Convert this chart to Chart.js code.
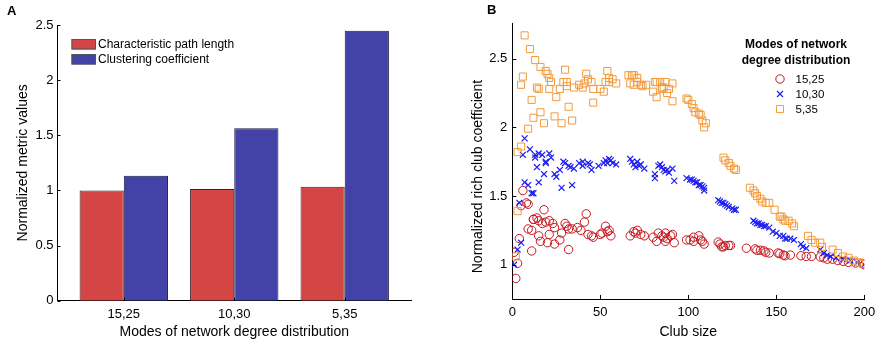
<!DOCTYPE html>
<html>
<head>
<meta charset="utf-8">
<script src="https://cdn.jsdelivr.net/npm/chart.js@4.4.0/dist/chart.umd.min.js"></script>
<style>
html,body{margin:0;padding:0;background:#fff;}
#wrap{position:relative;width:877px;height:343px;overflow:hidden;background:#fff;}
canvas{position:absolute;top:0;}
#c1{left:0;}
#c2{left:440px;}
.panel{position:absolute;font-family:'Liberation Sans',Arial,Helvetica,sans-serif;font-weight:bold;font-size:13px;line-height:13px;color:#000;}
</style>
</head>
<body>
<div id="wrap">
  <canvas id="c1" width="440" height="343"></canvas>
  <canvas id="c2" width="437" height="343"></canvas>
  <div class="panel" style="left:7px;top:4px;">A</div>
  <div class="panel" style="left:487px;top:3px;">B</div>
</div>
<script>
// ---------- Panel A data ----------
const barCategories = ['15,25', '10,30', '5,35'];
const pathLength = [1.00, 1.013, 1.034];
const clusteringCoef = [1.133, 1.563, 2.448];
const barTickValues = [0, 0.5, 1, 1.5, 2, 2.5];

// ---------- Panel B data ----------
const seriesNames = ['15,25', '10,30', '5,35'];
const club1525 = [1,2,3,4,5,6,8,9,9,11,11,12,12,14,15,15,16,17,18,19,20,21,21,23,24,24,27,28,30,31,32,32,34,37,39,41,42,43,45,46,50,51,53,54,55,56,67,69,70,71,73,75,80,82,83,85,86,87,87,88,90,91,92,99,101,103,103,106,107,108,109,117,118,119,120,121,123,124,133,138,139,141,143,144,146,151,152,154,155,158,164,167,170,175,177,179,182,185,188,191,195,199,200];
const rich1525 = [1.09,0.90,1.01,1.19,1.43,1.54,1.45,1.26,1.44,1.25,1.10,1.33,1.33,1.34,1.32,1.21,1.17,1.30,1.40,1.31,1.16,1.22,1.32,1.30,1.27,1.15,1.18,1.23,1.30,1.28,1.26,1.11,1.26,1.27,1.25,1.31,1.37,1.22,1.21,1.20,1.22,1.23,1.28,1.24,1.25,1.21,1.21,1.24,1.23,1.25,1.22,1.21,1.20,1.17,1.23,1.21,1.20,1.17,1.23,1.19,1.21,1.22,1.16,1.18,1.18,1.17,1.20,1.21,1.18,1.17,1.15,1.165,1.15,1.13,1.13,1.14,1.14,1.14,1.12,1.115,1.105,1.105,1.10,1.09,1.085,1.085,1.08,1.07,1.065,1.07,1.065,1.06,1.06,1.056,1.05,1.04,1.04,1.03,1.024,1.017,1.012,1.007,1.0];

const club1030 = [1,3,4,5,6,7,7,9,10,11,12,13,13,14,15,15,17,18,19,19,21,22,24,25,27,28,29,30,32,33,34,35,38,40,40,43,44,45,49,52,53,54,55,56,57,59,67,68,69,70,71,72,73,75,81,81,83,84,85,86,87,88,89,91,92,99,101,102,103,104,105,106,107,108,109,109,117,118,119,120,121,122,123,125,126,127,137,138,139,140,141,142,143,144,146,148,150,152,154,155,156,158,160,164,165,167,175,177,179,181,184,188,192,196,200];
const rich1030 = [1.00,1.11,1.45,1.16,1.80,1.60,1.92,1.58,1.84,1.52,1.52,1.80,1.78,1.71,1.81,1.60,1.80,1.66,1.75,1.74,1.81,1.78,1.66,1.64,1.69,1.56,1.75,1.74,1.72,1.71,1.58,1.70,1.74,1.75,1.72,1.74,1.73,1.69,1.72,1.74,1.76,1.74,1.77,1.76,1.74,1.73,1.77,1.75,1.73,1.71,1.75,1.72,1.73,1.70,1.66,1.63,1.72,1.73,1.71,1.69,1.68,1.69,1.67,1.70,1.61,1.63,1.62,1.62,1.61,1.60,1.60,1.58,1.58,1.57,1.56,1.54,1.47,1.46,1.45,1.45,1.44,1.43,1.42,1.41,1.40,1.40,1.32,1.31,1.30,1.30,1.29,1.29,1.28,1.28,1.27,1.24,1.23,1.21,1.21,1.19,1.19,1.19,1.18,1.15,1.13,1.12,1.11,1.085,1.07,1.06,1.05,1.04,1.03,1.015,1.00];

const club535 = [2,3,3,5,5,6,7,9,10,11,12,13,14,15,16,16,18,19,20,21,21,22,24,25,27,28,29,30,31,31,32,34,35,38,40,41,42,43,45,46,46,50,52,53,54,55,55,57,59,66,67,68,69,69,71,71,73,74,76,80,81,82,82,84,85,85,86,87,88,89,91,91,99,100,102,103,104,106,107,108,109,110,120,121,123,124,126,127,135,137,138,139,141,142,144,146,149,152,153,154,155,157,159,160,168,170,172,175,176,182,185,188,191,194,197,199];
const rich535 = [1.06,1.39,1.82,1.86,2.31,2.37,2.67,1.99,2.57,2.20,2.07,2.49,2.29,2.28,2.11,2.44,2.03,2.41,2.39,2.28,2.36,2.33,2.08,2.22,2.28,2.03,2.33,2.42,2.33,2.30,2.15,2.05,2.29,2.31,2.29,2.32,2.39,2.35,2.33,2.18,2.28,2.28,2.26,2.33,2.41,2.33,2.36,2.35,2.32,2.38,2.32,2.38,2.38,2.31,2.36,2.33,2.31,2.30,2.31,2.26,2.33,2.33,2.22,2.33,2.29,2.28,2.29,2.33,2.25,2.28,2.32,2.19,2.21,2.20,2.17,2.14,2.11,2.10,2.09,2.05,2.00,2.03,1.78,1.76,1.74,1.72,1.70,1.69,1.56,1.54,1.52,1.50,1.48,1.46,1.45,1.45,1.40,1.35,1.35,1.33,1.32,1.32,1.30,1.28,1.21,1.18,1.16,1.16,1.13,1.11,1.085,1.06,1.05,1.03,1.017,1.007];

const clubTicks = [0, 50, 100, 150, 200];
const richTicks = [1, 1.5, 2, 2.5];

// ---------- helpers ----------
const FONT = "'Liberation Sans', Arial, Helvetica, sans-serif";
Chart.defaults.font.family = FONT;
Chart.defaults.color = '#000';

const pairs = (xs, ys) => xs.map((x, i) => ({x: x, y: ys[i]}));
const zeroPad = s => { s.paddingLeft = 0; s.paddingRight = 0; s.paddingTop = 0; s.paddingBottom = 0; };

const inwardTicks = {
  id: 'inwardTicks',
  afterDatasetsDraw(chart, args, opts) {
    const ctx = chart.ctx, ca = chart.chartArea, len = opts.len || 4;
    ctx.save();
    ctx.strokeStyle = '#000';
    ctx.lineWidth = 1;
    ['x', 'y'].forEach(id => {
      const s = chart.scales[id];
      if (!s) return;
      s.ticks.forEach(t => {
        const p = Math.round(s.getPixelForValue(t.value)) + 0.5;
        ctx.beginPath();
        if (s.isHorizontal()) { ctx.moveTo(p, ca.bottom); ctx.lineTo(p, ca.bottom - len); }
        else { ctx.moveTo(ca.left, p); ctx.lineTo(ca.left + len, p); }
        ctx.stroke();
      });
    });
    ctx.restore();
  }
};

const barLegend = {
  id: 'barLegend',
  afterDatasetsDraw(chart, args, opts) {
    if (!opts.show) return;
    const ctx = chart.ctx;
    ctx.save();
    chart.data.datasets.forEach((ds, i) => {
      const y = opts.y + i * opts.rowGap;
      ctx.fillStyle = ds.backgroundColor;
      ctx.fillRect(opts.x, y, opts.boxW, opts.boxH);
      ctx.strokeStyle = '#555';
      ctx.lineWidth = 1;
      ctx.strokeRect(opts.x + 0.5, y + 0.5, opts.boxW - 1, opts.boxH - 1);
      ctx.fillStyle = '#000';
      ctx.font = '12px ' + FONT;
      ctx.textBaseline = 'middle';
      ctx.textAlign = 'left';
      ctx.fillText(ds.label, opts.x + opts.boxW + 2, y + opts.boxH / 2 + 0.5);
    });
    ctx.restore();
  }
};

const markerLegend = {
  id: 'markerLegend',
  afterDraw(chart, args, opts) {
    if (!opts.show) return;
    const ctx = chart.ctx;
    ctx.save();
    ctx.fillStyle = '#000';
    ctx.textAlign = 'center';
    ctx.textBaseline = 'middle';
    ctx.font = 'bold 12px ' + FONT;
    opts.title.forEach((line, i) => ctx.fillText(line, opts.titleX, opts.titleY + i * opts.titleGap));
    chart.data.datasets.forEach((ds, i) => {
      const y = opts.itemY + i * opts.itemGap;
      ctx.strokeStyle = ds.borderColor;
      ctx.fillStyle = 'rgba(0,0,0,0)';
      ctx.lineWidth = ds.borderWidth;
      Chart.helpers.drawPoint(ctx, {pointStyle: ds.pointStyle, radius: ds.pointRadius, rotation: 0, borderWidth: ds.borderWidth}, opts.markerX, y);
      ctx.fillStyle = '#000';
      ctx.textAlign = 'left';
      ctx.font = '11.5px ' + FONT;
      ctx.fillText(ds.label, opts.textX, y + 0.5);
    });
    ctx.restore();
  }
};

const rotatedTitle = {
  id: 'rotatedTitle',
  afterDraw(chart, args, opts) {
    if (!opts.text) return;
    const ctx = chart.ctx;
    ctx.save();
    ctx.translate(opts.x, opts.y);
    ctx.rotate(-Math.PI / 2);
    ctx.fillStyle = '#000';
    ctx.font = '14px ' + FONT;
    ctx.textAlign = 'center';
    ctx.textBaseline = 'middle';
    ctx.fillText(opts.text, 0, 0);
    ctx.restore();
  }
};

const axisBorder = {display: true, color: '#000', width: 1};
const noGrid = {display: false, drawTicks: false};

// ---------- Panel A ----------
new Chart(document.getElementById('c1'), {
  type: 'bar',
  data: {
    datasets: [
      {label: 'Characteristic path length', data: pathLength.map((v, i) => ({x: i + 1, y: v})),
       backgroundColor: '#D44545', borderColor: '#3a2222', borderWidth: 1, categoryPercentage: 0.8, barPercentage: 1},
      {label: 'Clustering coefficient', data: clusteringCoef.map((v, i) => ({x: i + 1, y: v})),
       backgroundColor: '#4242A8', borderColor: '#1a1a44', borderWidth: 1, categoryPercentage: 0.8, barPercentage: 1}
    ]
  },
  options: {
    responsive: false, animation: false,
    layout: {padding: {left: 0, right: 29, top: 25, bottom: 0}},
    plugins: {
      legend: {display: false}, tooltip: {enabled: false},
      inwardTicks: {len: 3},
      barLegend: {show: true, x: 71.5, y: 39, boxW: 24.5, boxH: 10.5, rowGap: 15}
    },
    scales: {
      x: {
        type: 'linear', min: 0.4, max: 3.6, offset: false,
        grid: noGrid, border: axisBorder,
        afterBuildTicks: s => { s.ticks = barCategories.map((c, i) => ({value: i + 1})); },
        ticks: {callback: v => barCategories[v - 1], font: {size: 13}, padding: 6, autoSkip: false, maxRotation: 0},
        title: {display: true, text: 'Modes of network degree distribution', font: {size: 14}, padding: {top: 0, bottom: 2}},
        afterFit: s => { s.height = 42.3; zeroPad(s); }
      },
      y: {
        min: 0, max: 2.5,
        grid: noGrid, border: axisBorder,
        afterBuildTicks: s => { s.ticks = barTickValues.map(v => ({value: v})); },
        ticks: {callback: v => String(v), font: {size: 13}, padding: 4},
        title: {display: true, text: 'Normalized metric values', font: {size: 14}, padding: {top: 15, bottom: 0}},
        afterFit: s => { s.width = 57.5; zeroPad(s); }
      }
    }
  },
  plugins: [inwardTicks, barLegend]
});

// ---------- Panel B ----------
new Chart(document.getElementById('c2'), {
  type: 'scatter',
  data: {
    datasets: [
      {label: seriesNames[0], data: pairs(club1525, rich1525), pointStyle: 'circle', pointRadius: 4.2,
       borderColor: '#C4161C', backgroundColor: 'rgba(0,0,0,0)', borderWidth: 1, order: 2},
      {label: seriesNames[1], data: pairs(club1030, rich1030), pointStyle: 'crossRot', pointRadius: 4.2,
       borderColor: '#1E1EF2', backgroundColor: 'rgba(0,0,0,0)', borderWidth: 1.2, order: 1},
      {label: seriesNames[2], data: pairs(club535, rich535), pointStyle: 'rect', pointRadius: 5,
       borderColor: '#F39A3B', backgroundColor: 'rgba(0,0,0,0)', borderWidth: 1, order: 0}
    ]
  },
  options: {
    responsive: false, animation: false,
    layout: {padding: {left: 0, right: 12.7, top: 23, bottom: 0}},
    elements: {point: {hoverRadius: 4}},
    plugins: {
      legend: {display: false}, tooltip: {enabled: false},
      inwardTicks: {len: 4},
      rotatedTitle: {text: 'Normalized rich club coefficient', x: 38.3, y: 176.5},
      markerLegend: {show: true, title: ['Modes of network', 'degree distribution'], titleX: 356, titleY: 45, titleGap: 16,
                     markerX: 340, textX: 355.5, itemY: 79, itemGap: 15}
    },
    scales: {
      x: {
        type: 'linear', min: 0, max: 200,
        grid: noGrid, border: axisBorder,
        afterBuildTicks: s => { s.ticks = clubTicks.map(v => ({value: v})); },
        ticks: {callback: v => String(v), font: {size: 13}, padding: 6, maxRotation: 0},
        title: {display: true, text: 'Club size', font: {size: 14}, padding: {top: 0, bottom: 2}},
        afterFit: s => { s.height = 44; zeroPad(s); }
      },
      y: {
        min: 0.75, max: 2.76,
        grid: noGrid, border: axisBorder,
        afterBuildTicks: s => { s.ticks = richTicks.map(v => ({value: v})); },
        ticks: {callback: v => String(v), font: {size: 13}, padding: 5},
        afterFit: s => { s.width = 72.3; zeroPad(s); }
      }
    }
  },
  plugins: [inwardTicks, markerLegend, rotatedTitle]
});
</script>
</body>
</html>
